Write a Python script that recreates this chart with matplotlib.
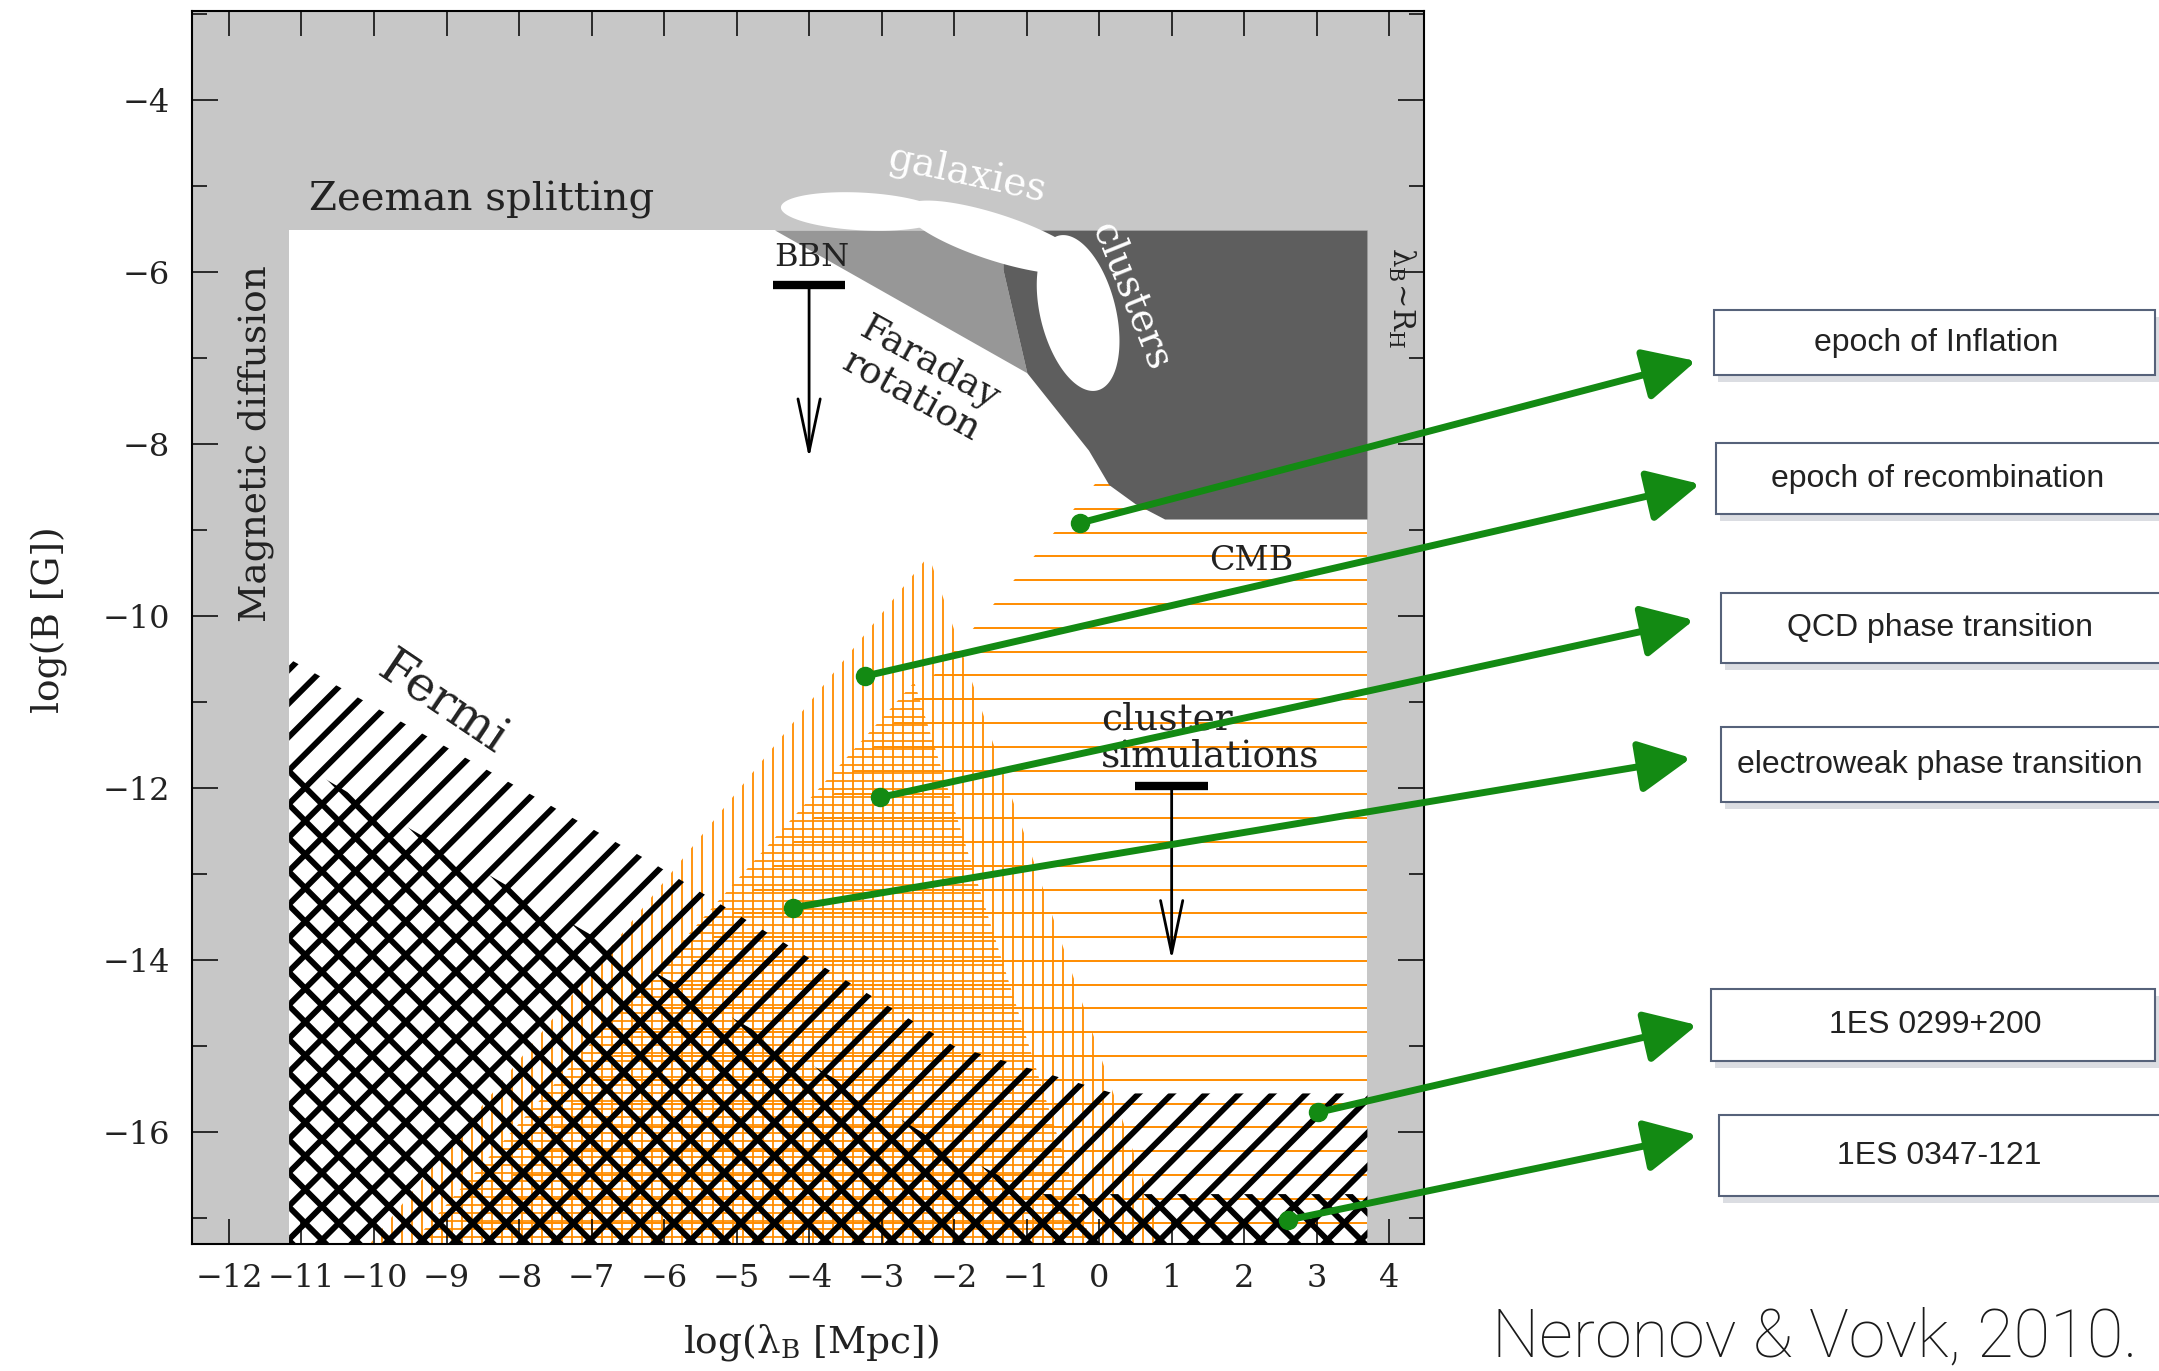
import numpy as np
import matplotlib.pyplot as plt
from matplotlib.patches import Polygon, Rectangle
from matplotlib.collections import LineCollection

plt.rcParams['font.family'] = 'DejaVu Serif'
plt.rcParams['mathtext.fontset'] = 'dejavuserif'

# ---- constraints in the (log lambda_B [Mpc], log B [G]) plane ----
x_diffusion = -11.17      # magnetic diffusion
x_horizon = 3.70          # lambda_B ~ R_H
y_zeeman = -5.52          # Zeeman splitting

faraday_x = [-4.47, -1.32, -1.32, -0.99]
faraday_y = [-5.52, -5.52, -5.98, -7.18]

clusters_x = [-1.32, 3.70, 3.70, 0.91, 0.50, 0.14, -0.14, -0.99, -1.32]
clusters_y = [-5.52, -5.52, -8.88, -8.88, -8.70, -8.48, -8.08, -7.18, -5.98]

# white blobs (galaxies / clusters): centre, semi-axes (x units), angle on screen
blob_x = [-3.27, -1.43, -0.29]
blob_y = [-5.30, -5.60, -6.48]
blob_a = [1.12, 1.31, 1.10]
blob_b = [0.26, 0.32, 0.52]
blob_angle = [-3, -18, -76]

# CMB (horizontal orange hatch)
cmb_x = [0.61, 3.70, 3.70, -9.09]
cmb_y = [-7.80, -7.80, -17.50, -17.50]
# cosmological field, sparse vertical hatch
cosmo_x = [-2.35, 0.99, -10.25]
cosmo_y = [-9.30, -17.50, -17.50]
# cosmological field, dense horizontal hatch
dense_x = [-2.55, -0.03, -9.70]
dense_y = [-10.77, -17.50, -17.50]

# Fermi lower bounds
fermi_x = [-11.17, -6.20, -2.00, 0.20, 3.70, 3.70, -11.17]
fermi_y = [-10.50, -12.85, -15.00, -15.55, -15.55, -17.50, -17.50]
fermi2_x = [-11.17, -4.23, -2.06, -0.90, 3.70, 3.70, -11.17]
fermi2_y = [-11.65, -15.08, -16.20, -16.72, -16.72, -17.50, -17.50]

# upper limits (T bar + arrow)
bbn = (-4.0, -6.15, -8.17)
cluster_sim = (1.0, -11.98, -14.0)

# annotations on the right
box_labels = ['epoch of Inflation', 'epoch of recombination', 'QCD phase transition',
              'electroweak phase transition', '1ES 0299+200', '1ES 0347-121']
arrow_from_x = [-0.26, -3.23, -3.02, -4.22, 3.02, 2.61]
arrow_from_y = [-8.92, -10.70, -12.11, -13.39, -15.77, -17.02]

# layout of the boxes (figure pixels)
W_PX, H_PX = 2159, 1371
box_left = [1714, 1716, 1721, 1721, 1711, 1719]
box_right = [2155, 2175, 2175, 2175, 2155, 2175]
box_top = [310, 443, 593, 727, 989, 1115]
box_bottom = [375, 514, 663, 802, 1061, 1196]
tip_px = [(1696, 361), (1700, 484), (1694, 620), (1691, 758), (1697, 1025), (1697, 1135)]

orange = '#ff8c00'
green = '#138a13'


def fx(px):
    return px / W_PX


def fy(py):
    return 1 - py / H_PX


fig = plt.figure(figsize=(21.59, 13.71), dpi=100)
ax = fig.add_axes([fx(192), fy(1244), fx(1424) - fx(192), fy(11) - fy(1244)])
ax.set_xlim(-12.51, 4.48)
ax.set_ylim(-17.30, -2.97)
ax.autoscale(False)
ax.set_facecolor('#c7c7c7')

x0, x1 = ax.get_xlim()
y0, y1 = ax.get_ylim()
ppx = ax.bbox.width / (x1 - x0)
ppy = ax.bbox.height / (y1 - y0)


def region(xs, ys, **kw):
    p = Polygon(np.column_stack([xs, ys]), closed=True, **kw)
    ax.add_patch(p)
    return p


def clip_region(xs, ys):
    return region(xs, ys, fill=False, lw=0, edgecolor='none')


def hatch(xs, ys, angle, spacing, color, lw, zorder):
    # parallel lines at a screen angle, spacing in pixels, clipped to polygon
    clip = clip_region(xs, ys)
    W, H = ax.bbox.width, ax.bbox.height
    t = np.radians(angle)
    d = np.array([np.cos(t), np.sin(t)])
    n = np.array([-np.sin(t), np.cos(t)])
    L = np.hypot(W, H)
    c = np.array([W / 2, H / 2])
    segs = []
    for k in np.arange(-L / 2, L / 2 + spacing, spacing):
        a = c + k * n - L * d
        b = c + k * n + L * d
        segs.append([(x0 + a[0] / ppx, y0 + a[1] / ppy), (x0 + b[0] / ppx, y0 + b[1] / ppy)])
    lc = LineCollection(segs, colors=color, linewidths=lw, zorder=zorder, capstyle='butt')
    ax.add_collection(lc, autolim=False)
    lc.set_clip_path(clip)


# allowed window
ax.add_patch(Rectangle((x_diffusion, y0 - 1), x_horizon - x_diffusion, y_zeeman - y0 + 1,
                       facecolor='white', lw=0, zorder=1))

# orange hatches
clip = clip_region(cmb_x, cmb_y)
hl = ax.hlines(np.arange(-8.48, -17.4, -0.2765), -12, 4, colors=orange, lw=1.4, zorder=1.1)
hl.set_clip_path(clip)
clip = clip_region(cosmo_x, cosmo_y)
vl = ax.vlines(np.arange(-10.3, 1.0, 0.138), -18, -9, colors=orange, lw=1.3, zorder=1.1)
vl.set_clip_path(clip)
clip = clip_region(dense_x, dense_y)
hl2 = ax.hlines(np.arange(-10.8, -17.4, -0.093), -12, 4, colors=orange, lw=1.25, zorder=1.1)
hl2.set_clip_path(clip)

# Faraday rotation & clusters
region(faraday_x, faraday_y, facecolor='#979797', lw=0, zorder=1.2)
region(clusters_x, clusters_y, facecolor='#5e5e5e', lw=0, zorder=1.3)
tt = np.linspace(0, 2 * np.pi, 200)
for xc, yc, a, b, ang in zip(blob_x, blob_y, blob_a, blob_b, blob_angle):
    th = np.radians(ang)
    u, v = a * np.cos(tt), b * np.sin(tt)
    dx = u * np.cos(th) - v * np.sin(th)
    dy = (u * np.sin(th) + v * np.cos(th)) * ppx / ppy
    ax.fill(xc + dx, yc + dy, color='white', lw=0, zorder=1.4)

# Fermi hatches
hatch(fermi_x, fermi_y, 45, 23.7, 'black', 4.2, 1.5)
hatch(fermi2_x, fermi2_y, -45, 23.7, 'black', 4.2, 1.5)

# upper limits
for xa, ya, yb in [bbn, cluster_sim]:
    ax.plot([xa - 0.5, xa + 0.5], [ya, ya], color='black', lw=6, solid_capstyle='butt', zorder=3)
    ax.annotate('', xy=(xa, yb), xytext=(xa, ya),
                arrowprops=dict(arrowstyle='->,head_length=38,head_width=8', mutation_scale=1,
                                lw=2, color='black', shrinkA=0, shrinkB=0), zorder=3)

# labels inside the plot
tc = '#222222'
ax.text(-8.51, -5.17, 'Zeeman splitting', fontsize=29, color=tc, ha='center', va='center', zorder=3)
ax.text(-11.63, -8.0, 'Magnetic diffusion', fontsize=27, color=tc, rotation=90,
        ha='center', va='center', zorder=3)
ax.text(4.17, -6.3, r'λ$_{\rm B}\!\sim\!$R$_{\rm H}$', fontsize=21, color=tc, rotation=-90,
        ha='center', va='center', zorder=3)
ax.text(-1.82, -4.88, 'galaxies', fontsize=28, color='white', rotation=-12,
        ha='center', va='center', zorder=3)
ax.text(0.43, -6.28, 'clusters', fontsize=28, color='white', rotation=-68,
        ha='center', va='center', zorder=3)
ax.text(-2.46, -7.26, 'Faraday\nrotation', fontsize=27, color=tc, rotation=-29,
        ha='center', va='center', linespacing=1.05, rotation_mode='anchor', zorder=3)
ax.text(-3.97, -5.84, 'BBN', fontsize=23, color=tc, ha='center', va='center', zorder=3)
ax.text(2.10, -9.36, 'CMB', fontsize=24, color=tc, ha='center', va='center', zorder=3)
ax.text(0.03, -11.42, 'cluster\nsimulations', fontsize=27, color=tc, ha='left', va='center',
        linespacing=1.05, zorder=3)
ax.text(-9.06, -11.02, 'Fermi', fontsize=35, color=tc, rotation=-34,
        ha='center', va='center', zorder=3)

# axes styling
ax.set_xticks(np.arange(-12, 5, 1))
ax.set_yticks(np.arange(-16, -3, 2))
ax.set_yticks(np.arange(-17, -2, 2), minor=True)
ax.tick_params(which='both', direction='in', top=True, right=True, width=1.1,
               labelsize=23, labelcolor=tc)
ax.tick_params(axis='x', which='major', length=18, pad=14)
ax.tick_params(axis='y', which='major', length=19, pad=16)
ax.tick_params(axis='y', which='minor', length=11)
for s in ax.spines.values():
    s.set_linewidth(1.5)
ax.set_xlabel('log(λ$_{\\rm B}$ [Mpc])', fontsize=27, color=tc, va='center')
ax.set_ylabel('log(B [G])', fontsize=27, color=tc, va='center')
ax.xaxis.set_label_coords(0.502, -0.0795)
ax.yaxis.set_label_coords(-0.116, 0.506)

# green arrows from the plot to the boxes
for xs, ys, (tx, ty) in zip(arrow_from_x, arrow_from_y, tip_px):
    ax.annotate('', xy=(fx(tx), fy(ty)), xycoords='figure fraction', xytext=(xs, ys),
                textcoords='data', annotation_clip=False, zorder=6,
                arrowprops=dict(arrowstyle='-|>,head_length=32,head_width=16', mutation_scale=1,
                                lw=5, color=green, shrinkA=0, shrinkB=0))
ax.plot(arrow_from_x, arrow_from_y, 'o', ms=13, color=green, zorder=6, clip_on=False)

# boxes
for lab, l, r, t, b in zip(box_labels, box_left, box_right, box_top, box_bottom):
    fig.patches.append(Rectangle((fx(l + 4), fy(b + 7)), fx(r - l), fy(t) - fy(b),
                                 transform=fig.transFigure, facecolor='#c3c7cf', lw=0, alpha=0.6))
    fig.patches.append(Rectangle((fx(l), fy(b)), fx(r - l), fy(t) - fy(b),
                                 transform=fig.transFigure, facecolor='white',
                                 edgecolor='#56627a', lw=1.5))
    fig.text(fx((l + W_PX) / 2), fy((t + b) / 2), lab, fontsize=23, color=tc,
             family='Liberation Sans', ha='center', va='center')

fig.text(fx(1492), fy(1356), 'Neronov & Vovk, 2010.', fontsize=48, color='#1a1a1a',
         family='Roboto', weight='light', ha='left', va='baseline')

fig.savefig('out.png', dpi=100)
